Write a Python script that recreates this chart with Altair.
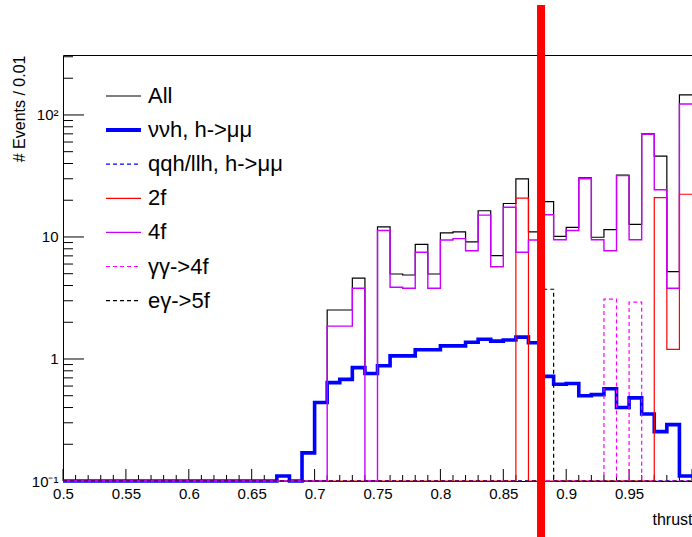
import altair as alt
import pandas as pd

# ---------------- data (bin lower edges: 0.50 ... 0.99, width 0.01) ----------------
bin_lo = [round(0.50 + 0.01 * i, 2) for i in range(50)]

all_events = [0] * 17 + [0.11, 0, 0.17, 0.44, 2.52, 2.52, 4.6, 0.76, 12.1, 4.97, 4.88, 8.71,
                         4.97, 10.8, 11.0, 9.1, 16.4, 7.03, 18.8, 29.9, 11.0, 19.5, 10.1, 12.0,
                         30.5, 9.95, 11.5, 32.2, 12.7, 70.0, 45.9, 5.2, 146.0]
nnh = [0] * 17 + [0.11, 0, 0.17, 0.44, 0.64, 0.68, 0.85, 0.76, 0.88, 1.06, 1.06, 1.19, 1.19,
                  1.28, 1.28, 1.37, 1.45, 1.40, 1.43, 1.51, 1.36, 0.72, 0.62, 0.63, 0.50, 0.51,
                  0.57, 0.40, 0.48, 0.354, 0.254, 0.29, 0.11]
qqh_llh = [0] * 50
two_f = [0] * 36 + [20.8] + [0] * 10 + [21.0, 1.2, 22.4]
four_f = [0] * 21 + [1.86, 1.86, 3.8, 0, 11.3, 3.87, 3.8, 7.5, 3.8, 9.45, 9.7, 7.7, 15.1, 5.7,
                     17.5, 7.5, 9.45, 15.2, 9.5, 11.3, 30.0, 9.5, 7.7, 31.8, 9.5, 69.5, 24.4,
                     3.8, 123.0]
gg_4f = [0] * 43 + [3.1, 0, 2.92] + [0] * 4
eg_5f = [0] * 38 + [3.73] + [0] * 11

cut_value = [0.88]

series_names = ["All", "\u03bd\u03bdh, h->\u03bc\u03bc", "qqh/llh, h->\u03bc\u03bc", "2f", "4f",
                "\u03b3\u03b3->4f", "e\u03b3->5f"]
series_vals = [all_events, nnh, qqh_llh, two_f, four_f, gg_4f, eg_5f]
series_color = ["#000000", "#0000ff", "#0000ff", "#ff0000", "#cc00ff", "#ff00ff", "#000000"]
series_width = [1.2, 3.6, 1.2, 1.2, 1.4, 1.2, 1.2]
series_dash = [None, None, [4, 3], None, None, [4, 3], [4, 3]]

x_major = [0.5, 0.55, 0.6, 0.65, 0.7, 0.75, 0.8, 0.85, 0.9, 0.95, 1.0]
x_labels = [0.5, 0.55, 0.6, 0.65, 0.7, 0.75, 0.8, 0.85, 0.9, 0.95]
x_minor = [v for v in bin_lo if v not in x_major]
y_major = [0.1, 1, 10, 100]
y_minor = [0.2, 0.3, 0.4, 0.5, 0.6, 0.7, 0.8, 0.9, 2, 3, 4, 5, 6, 7, 8, 9,
           20, 30, 40, 50, 60, 70, 80, 90, 200, 300]

# ---------------- layout ----------------
W, H = 629, 426
FLOOR = 0.1
FONT = "Liberation Sans"

xscale = alt.Scale(domain=[0.5, 1.0], nice=False, zero=False)
yscale = alt.Scale(type="log", domain=[0.1, 310], nice=False)

xaxis = alt.Axis(values=x_labels, format="~g", ticks=False, domain=False, grid=False,
                 labelFontSize=15, labelPadding=5, labelFont=FONT, labelColor="black",
                 title="thrust", titleFontSize=16, titleFontWeight="normal", titleFont=FONT,
                 titleAnchor="end", titleAlign="right", titlePadding=10, titleColor="black",
                 labelFlush=False)
yaxis = alt.Axis(values=y_major,
                 labelExpr="datum.value >= 99 ? '10\u00b2' : datum.value >= 9 ? '10' : datum.value >= 0.9 ? '1' : '10\u207b\u00b9'",
                 ticks=False, domain=False, grid=False, labelFontSize=15, labelPadding=5,
                 labelFont=FONT, labelColor="black",
                 title="# Events / 0.01", titleFontSize=16, titleFontWeight="normal", titleFont=FONT,
                 titleColor="black", titleAnchor="end", titleAlign="right", titleBaseline="middle",
                 titleAngle=270, titleX=-44, titleY=0)


def X():
    return alt.X("x:Q", scale=xscale, axis=xaxis, title="thrust")


def Y():
    return alt.Y("y:Q", scale=yscale, axis=yaxis, title="# Events / 0.01")


layers = []

# inward ticks
layers.append(alt.Chart(pd.DataFrame({"x": x_major})).mark_rule(color="black", strokeWidth=1)
              .encode(x=X(), y=alt.value(H), y2=alt.value(H - 12)))
layers.append(alt.Chart(pd.DataFrame({"x": x_minor})).mark_rule(color="black", strokeWidth=1)
              .encode(x=X(), y=alt.value(H), y2=alt.value(H - 6)))
layers.append(alt.Chart(pd.DataFrame({"y": y_major})).mark_rule(color="black", strokeWidth=1)
              .encode(y=Y(), x=alt.value(0), x2=alt.value(21)))
layers.append(alt.Chart(pd.DataFrame({"y": y_minor})).mark_rule(color="black", strokeWidth=1)
              .encode(y=Y(), x=alt.value(0), x2=alt.value(10)))

# histograms (step outlines); empty bins drawn at the floor
for name, vals, col, wd, dash in zip(series_names, series_vals, series_color, series_width, series_dash):
    shown = [v if v > 0 else FLOOR for v in vals]
    df = pd.DataFrame({"x": bin_lo + [1.0], "y": shown + [shown[-1]]})
    kw = dict(color=col, strokeWidth=wd, interpolate="step-after", clip=False)
    if dash:
        kw["strokeDash"] = dash
    layers.append(alt.Chart(df).mark_line(**kw).encode(x=X(), y=Y()))

# cut line
layers.append(alt.Chart(pd.DataFrame({"x": cut_value})).mark_rule(color="#ff0000", strokeWidth=8, clip=False)
              .encode(x=X(), y=alt.value(-50), y2=alt.value(H + 56)))

# legend (inside plot)
for i, (name, col, wd, dash) in enumerate(zip(series_names, series_color, series_width, series_dash)):
    yy = 41 + 34.1 * i
    kw = dict(color=col, strokeWidth=max(wd, 1.2) if i != 1 else 4)
    if dash:
        kw["strokeDash"] = dash
    ldf = pd.DataFrame({"label": [name]})
    layers.append(alt.Chart(ldf).mark_rule(**kw)
                  .encode(x=alt.value(43), x2=alt.value(78), y=alt.value(yy)))
    layers.append(alt.Chart(ldf).mark_text(align="left", baseline="middle", fontSize=22, font=FONT,
                                           color="black")
                  .encode(x=alt.value(85), y=alt.value(yy), text="label:N"))

chart = (alt.layer(*layers)
         .properties(width=W, height=H, background="white",
                     autosize=alt.AutoSizeParams(type="none"),
                     padding={"left": 63, "top": 55, "right": 0, "bottom": 56})
         .configure_view(stroke="black", strokeWidth=1))

chart.save("out.html", embed_options={"renderer": "svg", "actions": False})
